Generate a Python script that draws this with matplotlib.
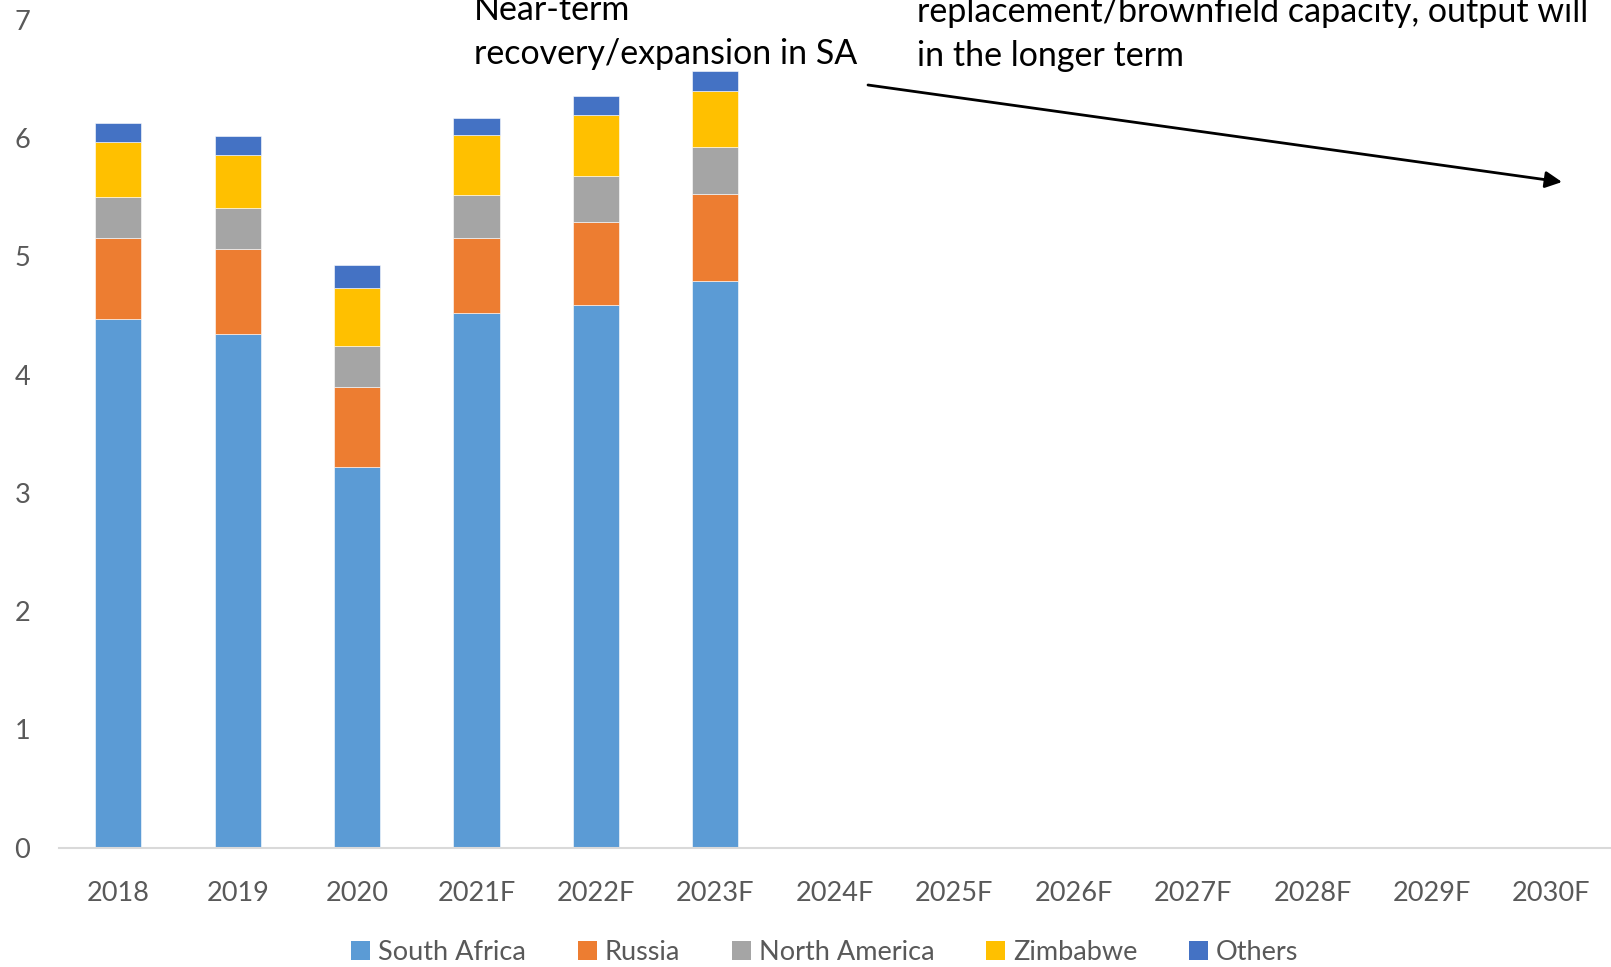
import numpy as np
import matplotlib
matplotlib.use("Agg")
import matplotlib.pyplot as plt
from matplotlib.patches import Patch

plt.rcParams['font.family'] = ['Lato', 'DejaVu Sans']

years = ['2018', '2019', '2020', '2021F', '2022F', '2023F', '2024F',
         '2025F', '2026F', '2027F', '2028F', '2029F', '2030F']
regions = ['South Africa', 'Russia', 'North America', 'Zimbabwe', 'Others']
colors = ['#5B9BD5', '#ED7D31', '#A5A5A5', '#FFC000', '#4472C4']

# only 2018-2023F have values, later years are left empty
south_africa = [4.47, 4.34, 3.22, 4.52, 4.59, 4.79]
russia = [0.69, 0.72, 0.68, 0.64, 0.70, 0.74]
north_america = [0.34, 0.35, 0.34, 0.36, 0.39, 0.40]
zimbabwe = [0.47, 0.45, 0.49, 0.51, 0.52, 0.47]
others = [0.16, 0.16, 0.20, 0.14, 0.16, 0.17]
series = [south_africa, russia, north_america, zimbabwe, others]

W, H = 1611, 967
fig = plt.figure(figsize=(W / 100, H / 100), dpi=100)
ax = fig.add_axes([58.6 / W, 119.4 / H, 1 - 58.6 / W, 827.6 / H])

x = np.arange(len(years))
n = len(south_africa)
bottom = np.zeros(n)
for vals, c in zip(series, colors):
    ax.bar(x[:n], vals, width=0.387, bottom=bottom, color=c,
           edgecolor='white', linewidth=0.4, zorder=2)
    bottom += np.array(vals)

ax.set_xlim(-0.5, len(years) - 0.5)
ax.set_ylim(0, 7)
ax.set_xticks(x)
ax.set_xticklabels(years)
ax.set_yticks(range(8))
ax.tick_params(axis='both', length=0, labelsize=19.5, colors='#595959')
ax.tick_params(axis='y', pad=26)
ax.tick_params(axis='x', pad=24)
for lab in ax.get_yticklabels():
    lab.set_horizontalalignment('center')
for s in ['top', 'right', 'left']:
    ax.spines[s].set_visible(False)
ax.spines['bottom'].set_color('#D9D9D9')
ax.spines['bottom'].set_linewidth(1.5)

# commentary text and arrow
note_kw = dict(fontsize=24.5, color='black', transform=None, va='baseline')
fig.text(474, 947, 'Near-term', **note_kw)
fig.text(474, 903, 'recovery/expansion in SA', **note_kw)
fig.text(917, 945, 'replacement/brownfield capacity, output will', **note_kw)
fig.text(917, 901, 'in the longer term', **note_kw)
ax.annotate('', xy=(1562, 785), xycoords='figure pixels',
            xytext=(868, 882), textcoords='figure pixels',
            arrowprops=dict(arrowstyle='-|>', color='black', lw=2,
                            mutation_scale=25, shrinkA=0, shrinkB=0),
            annotation_clip=False)

handles = [Patch(facecolor=c, label=r) for r, c in zip(regions, colors)]
leg = fig.legend(handles=handles, loc='center',
                 bbox_to_anchor=(0.512, (H - 952) / H),
                 ncol=5, frameon=False, fontsize=19.5, handlelength=0.7,
                 handleheight=0.7, handletextpad=0.3, columnspacing=1.9)
for t in leg.get_texts():
    t.set_color('#595959')

fig.savefig('out.png', dpi=100)
